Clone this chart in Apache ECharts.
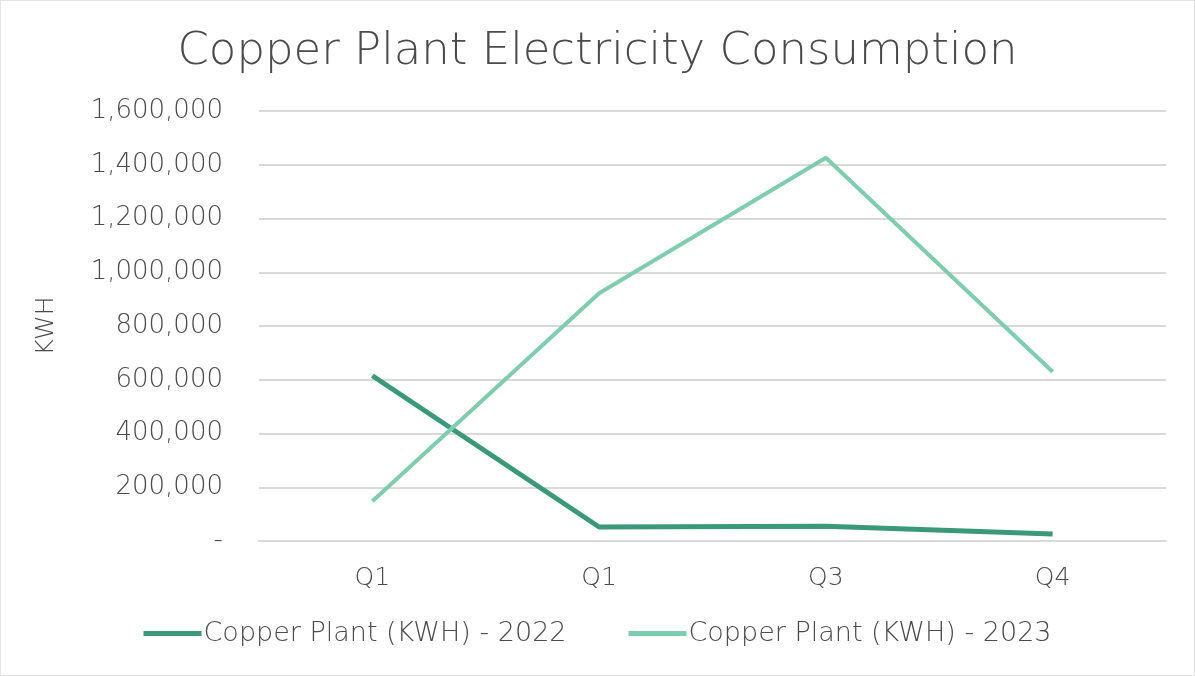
<!DOCTYPE html>
<html>
<head>
<meta charset="utf-8">
<script src="https://cdn.jsdelivr.net/npm/echarts@6/dist/echarts.min.js"></script>
<style>
  html, body { margin: 0; padding: 0; background: #fff; }
  #chart { width: 1195px; height: 676px; box-sizing: border-box; border: 1px solid #e4e4e4; }
</style>
</head>
<body>
<div id="chart"></div>
<script>
// quarter labels as printed in the source (second one really says Q1)
var categories = ['Q1', 'Q1', 'Q3', 'Q4'];
var kwh2022 = [615000, 52000, 55000, 26000];
var kwh2023 = [148000, 922000, 1426000, 630000];
var yTicks = { min: 0, max: 1600000, interval: 200000 };

var textColor = '#4a4a4a';
var fontFam = '"DejaVu Sans", sans-serif';
var weight = 200;

var chart = echarts.init(document.getElementById('chart'));
chart.setOption({
  animation: false,
  title: {
    text: 'Copper Plant Electricity Consumption',
    left: 'center',
    top: 24,
    textStyle: { fontSize: 45, fontWeight: weight, color: textColor, fontFamily: fontFam }
  },
  legend: {
    bottom: 23,
    left: 'center',
    icon: 'rect',
    itemWidth: 58,
    itemHeight: 5,
    itemGap: 62,
    textStyle: { fontSize: 27, fontWeight: weight, color: textColor, fontFamily: fontFam, padding: [0, 0, 0, -3] },
    data: ['Copper Plant (KWH) - 2022', 'Copper Plant (KWH) - 2023']
  },
  grid: { left: 258, right: 28, top: 110, bottom: 134 },
  xAxis: {
    type: 'category',
    data: categories,
    boundaryGap: true,
    axisLine: { lineStyle: { color: '#d9d9d9', width: 2 } },
    axisTick: { show: false },
    axisLabel: { margin: 25, fontSize: 25, fontWeight: weight, color: textColor, fontFamily: fontFam }
  },
  yAxis: {
    type: 'value',
    min: yTicks.min,
    max: yTicks.max,
    interval: yTicks.interval,
    name: 'KWH',
    nameLocation: 'middle',
    nameGap: 200,
    nameRotate: 90,
    nameTextStyle: { fontSize: 25, fontWeight: weight, color: textColor, fontFamily: fontFam },
    axisLine: { show: false },
    axisTick: { show: false },
    splitLine: { lineStyle: { color: '#d9d9d9', width: 2 } },
    axisLabel: {
      margin: 36,
      fontSize: 26,
      fontWeight: weight,
      color: textColor,
      fontFamily: fontFam,
      formatter: function (v) {
        if (v === 0) return '-';
        return v.toLocaleString('en-US');
      }
    }
  },
  series: [
    {
      name: 'Copper Plant (KWH) - 2022',
      type: 'line',
      data: kwh2022,
      symbol: 'none',
      color: '#3b997a',
      lineStyle: { width: 5, color: '#3b997a' }
    },
    {
      name: 'Copper Plant (KWH) - 2023',
      type: 'line',
      data: kwh2023,
      symbol: 'none',
      color: '#7fcdae',
      lineStyle: { width: 4, color: '#7fcdae' }
    }
  ]
});
</script>
</body>
</html>
